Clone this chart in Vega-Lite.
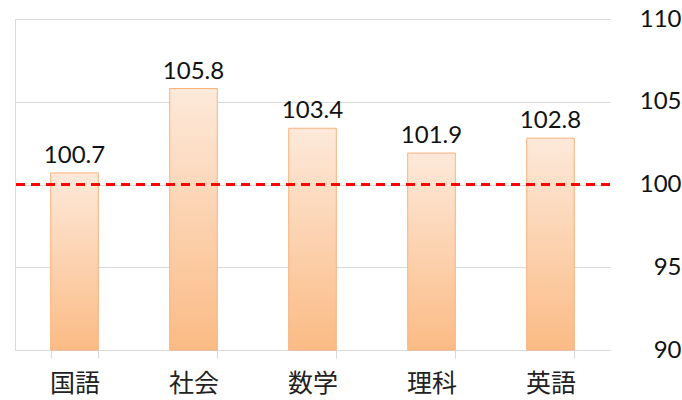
{
  "$schema": "https://vega.github.io/schema/vega-lite/v6.json",
  "autosize": {"type": "none"},
  "width": 595,
  "height": 331,
  "padding": {"left": 15, "top": 19, "right": 72, "bottom": 50},
  "background": "white",
  "config": {"view": {"stroke": null}},
  "data": {"values": [
    {"subject": "国語", "score": 100.7},
    {"subject": "社会", "score": 105.8},
    {"subject": "数学", "score": 103.4},
    {"subject": "理科", "score": 101.9},
    {"subject": "英語", "score": 102.8}
  ]},
  "encoding": {
    "x": {"field": "subject", "type": "nominal", "sort": null,
      "scale": {"paddingInner": 0.6, "paddingOuter": 0.3},
      "axis": {"title": null, "labelAngle": 0, "labelFont": "Noto Sans CJK JP", "labelFontSize": 25, "labelColor": "#222222",
        "labelPadding": 13, "domainColor": "#d9d9d9", "tickColor": "#d9d9d9", "tickSize": 8, "tickBand": "extent", "grid": false}}
  },
  "layer": [
    {
      "mark": {"type": "bar", "stroke": "#f8b27c", "strokeWidth": 1,
        "color": {"gradient": "linear", "x1": 0, "y1": 0, "x2": 0, "y2": 1,
          "stops": [{"offset": 0, "color": "#fde9da"}, {"offset": 1, "color": "#fbbb85"}]}},
      "encoding": {
        "y": {"field": "score", "type": "quantitative",
          "scale": {"domain": [90, 110], "nice": false, "zero": false},
          "axis": {"orient": "right", "title": null, "values": [90, 95, 100, 105, 110], "ticks": false, "domain": false,
            "labelAlign": "right", "labelPadding": 71, "labelFont": "Lato", "labelFontSize": 24, "labelColor": "#111111",
            "gridColor": "#d9d9d9", "gridWidth": 1}},
        "y2": {"datum": 90}
      }
    },
    {
      "mark": {"type": "text", "baseline": "alphabetic", "dy": -10, "font": "Lato", "fontSize": 24, "color": "#111111"},
      "encoding": {
        "y": {"field": "score", "type": "quantitative",
          "axis": {"orient": "left", "title": null, "labels": false, "ticks": false, "grid": false, "domain": true, "domainColor": "#d9d9d9"}},
        "text": {"field": "score", "type": "quantitative", "format": ".1f"}
      }
    },
    {
      "mark": {"type": "rule", "color": "#ff0000", "strokeWidth": 2, "strokeDash": [9, 6]},
      "encoding": {"y": {"datum": 100, "axis": null}, "x": null}
    }
  ],
  "resolve": {"axis": {"y": "independent"}}
}
